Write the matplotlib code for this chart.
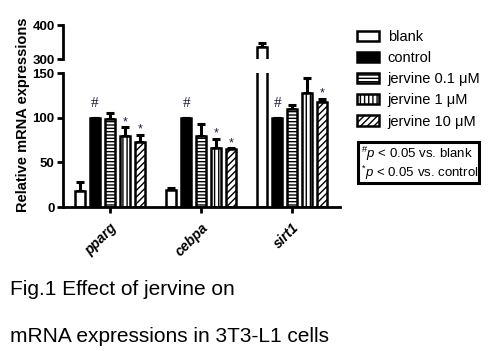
import numpy as np
import matplotlib
matplotlib.use("Agg")
from matplotlib import pyplot as plt
from matplotlib.patches import Patch, Rectangle

plt.rcParams['font.family'] = ['Liberation Sans', 'DejaVu Sans']
plt.rcParams['mathtext.fontset'] = 'custom'
plt.rcParams['mathtext.rm'] = 'Liberation Sans'
plt.rcParams['mathtext.it'] = 'Liberation Sans:italic'
plt.rcParams['hatch.linewidth'] = 1.0

# data
genes = ["pparg", "cebpa", "sirt1"]
groups = ["blank", "control", "jervine 0.1 \u03bcM", "jervine 1 \u03bcM", "jervine 10 \u03bcM"]
blank = [18, 18.5, 336]
control = [100, 100, 100]
jerv01 = [98, 80, 110]
jerv1 = [80, 66, 128]
jerv10 = [73, 65, 117]
blank_err = [10, 3, 12]
control_err = [0, 0, 0]
jerv01_err = [7.5, 13, 4]
jerv1_err = [9, 10, 16]
jerv10_err = [7.5, 0.5, 4]
# significance marks per group, one string per gene
marks = [["", "", ""], ["#", "#", "#"], ["", "", ""], ["*", "*", ""], ["*", "*", "*"]]

values = [blank, control, jerv01, jerv1, jerv10]
errors = [blank_err, control_err, jerv01_err, jerv1_err, jerv10_err]
faces = ["white", "black", "white", "white", "white"]
hatches = [None, None, "-----", "||||", "/////"]

fig = plt.figure(figsize=(4.96, 3.51), dpi=100)
ax_lo = fig.add_axes([63 / 496, 1 - 207 / 351, 277 / 496, 134 / 351])
ax_hi = fig.add_axes([63 / 496, 1 - 59 / 351, 277 / 496, 34 / 351])

x = np.arange(len(genes)) * 6.07
width = 0.68
lw = 1.8
spine_w = 2.0

for ax in (ax_lo, ax_hi):
    for i in range(len(groups)):
        pos = x + (i - 2)
        ax.bar(pos, values[i], width, color=faces[i], edgecolor="black",
               linewidth=lw, hatch=hatches[i], zorder=2)
        ax.errorbar(pos, values[i], yerr=[np.zeros(3), errors[i]], fmt="none",
                    ecolor="black", elinewidth=2.2, capsize=3.2, capthick=2.2, zorder=1)

    ax.set_xlim(-3.13, 15.33)
    ax.spines["right"].set_visible(False)
    ax.spines["top"].set_visible(False)
    ax.spines["left"].set_linewidth(spine_w)
    ax.tick_params(axis="y", direction="out", length=4, width=spine_w, labelsize=9.5, pad=2)

# significance marks, put in whichever panel holds them
for i in range(len(groups)):
    pos = x + (i - 2)
    for j in range(len(genes)):
        m = marks[i][j]
        if not m:
            continue
        top = values[i][j] + errors[i][j]
        ax = ax_hi if top > 150 else ax_lo
        off = 12 if m == "#" else 2.5
        ax.text(pos[j], top + off, m, ha="center", va="baseline",
                fontsize=11 if m == "#" else 9, color="#1c1c3c",
                family="Liberation Serif" if m == "#" else None)

ax_lo.set_ylim(0, 150)
ax_lo.set_yticks([0, 50, 100, 150])
ax_lo.spines["bottom"].set_linewidth(spine_w)
ax_lo.set_xticks(x)
ax_lo.set_xticklabels(genes, rotation=45, ha="right", va="top", rotation_mode="anchor",
                      fontsize=10, fontweight="bold", fontstyle="italic")
ax_lo.tick_params(axis="x", direction="out", length=4, width=spine_w, pad=6)

ax_hi.set_ylim(300, 400)
ax_hi.set_yticks([300, 400])
ax_hi.spines["bottom"].set_visible(False)
ax_hi.set_xticks([])

for ax in (ax_lo, ax_hi):
    for lab in ax.get_yticklabels():
        lab.set_fontweight("bold")

fig.text(23 / 496, 1 - 115 / 351, "Relative mRNA expressions", rotation=90,
         ha="center", va="center", fontsize=10.5, fontweight="bold")

handles = [Patch(facecolor=faces[i], edgecolor="black", linewidth=lw, hatch=hatches[i])
           for i in range(len(groups))]
fig.legend(handles, groups, loc="upper left", bbox_to_anchor=(357 / 496, 1 - 30 / 351),
           frameon=False, fontsize=10.5, handlelength=1.5, handleheight=0.7,
           handletextpad=0.6, labelspacing=0.49, borderpad=0, borderaxespad=0)

# note box with the significance key
fig.patches.append(Rectangle((358 / 496, 1 - 183 / 351), 121 / 496, 41.3 / 351,
                             transform=fig.transFigure, facecolor="white",
                             edgecolor="black", linewidth=2.2))
fig.text(361 / 496, 1 - 163.5 / 351,
         "$^{\\#}\\mathit{p}$ < 0.05 vs. blank\n$^{*}\\mathit{p}$ < 0.05 vs. control",
         ha="left", va="center", fontsize=9.5, linespacing=1.05)

fig.text(10 / 496, 1 - 295 / 351, "Fig.1 Effect of jervine on",
         ha="left", va="baseline", fontsize=15)
fig.text(10 / 496, 1 - 341.5 / 351, "mRNA expressions in 3T3-L1 cells",
         ha="left", va="baseline", fontsize=15)

fig.savefig("out.png", dpi=100)
